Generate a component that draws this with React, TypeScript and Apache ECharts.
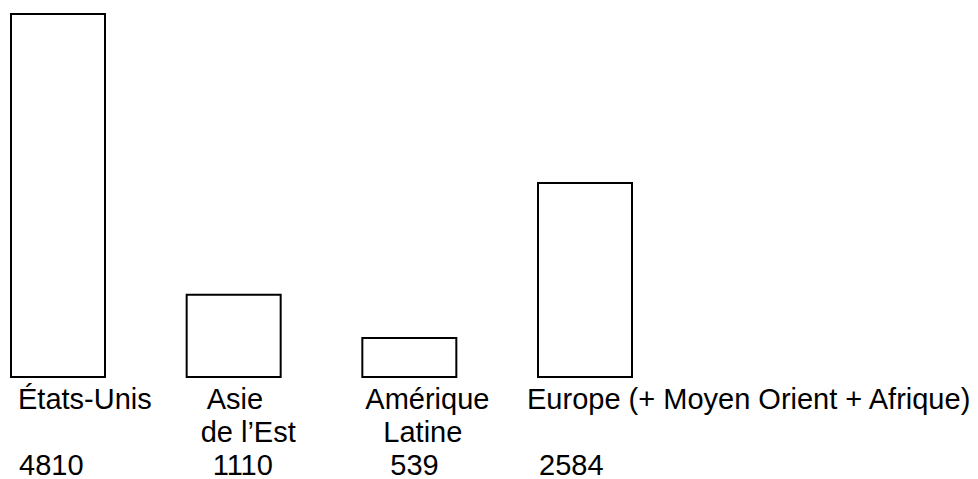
import React, { useEffect, useRef } from "react";
import * as echarts from "echarts";

const regions = ["États-Unis", "Asie de l’Est", "Amérique Latine", "Europe (+ Moyen Orient + Afrique)"];
const regionLines = [["États-Unis"], ["Asie", "de l’Est"], ["Amérique", "Latine"], ["Europe (+ Moyen Orient + Afrique)"]];
const values = [4810, 1110, 539, 2584];
const valueLabels = ["4810", "1110", "539", "2584"];

// left indents (px) of each label line: name line 1, name line 2, value
const indents = [
  [15, 15, 16],
  [29, 23, 35],
  [13, 31, 38],
  [0, 0, 12],
];

const FONT = "'Liberation Sans', Arial, Helvetica, sans-serif";

export default function App() {
  const ref = useRef<HTMLDivElement>(null);
  useEffect(() => {
    if (!ref.current) return;
    const chart = echarts.init(ref.current, null, { renderer: "svg" });
    const rich: any = {};
    indents.forEach((row, i) =>
      row.forEach((p, j) => {
        rich[`t${i}${j}`] = {
          padding: [0, 0, 0, p],
          fontSize: 29,
          lineHeight: 33,
          fontFamily: FONT,
          color: "#000",
        };
      })
    );
    chart.setOption({
      animation: false,
      backgroundColor: "#fff",
      grid: [
        { left: 58, right: 393, top: 13, bottom: 101 },
        { left: 0, right: 451, top: 13, bottom: 101 },
      ],
      xAxis: [
        {
          gridIndex: 0,
          type: "category",
          data: regions,
          boundaryGap: false,
          show: false,
        },
        {
          gridIndex: 1,
          type: "category",
          data: regions,
          boundaryGap: false,
          axisLine: { show: false },
          axisTick: { show: false },
          splitLine: { show: false },
          axisLabel: {
            interval: 0,
            align: "left",
            margin: 6,
            hideOverlap: false,
            formatter: (_v: string, index: number) => {
              const lines = regionLines[index];
              const l1 = lines[0];
              const l2 = lines[1] ?? " ";
              return `{t${index}0|${l1}}\n{t${index}1|${l2}}\n{t${index}2|${valueLabels[index]}}`;
            },
            rich,
          },
        },
      ],
      yAxis: [
        { gridIndex: 0, type: "value", min: 0, max: 4810, show: false },
        { gridIndex: 1, type: "value", min: 0, max: 4810, show: false },
      ],
      series: [
        {
          type: "bar",
          xAxisIndex: 0,
          yAxisIndex: 0,
          data: values,
          barWidth: 96,
          clip: false,
          silent: true,
          itemStyle: { color: "#fff", borderColor: "#000", borderWidth: 2 },
        },
      ],
    });
    return () => chart.dispose();
  }, []);
  return (
    <div
      ref={ref}
      style={{ position: "absolute", left: 0, top: 0, width: 978, height: 479 }}
    />
  );
}
